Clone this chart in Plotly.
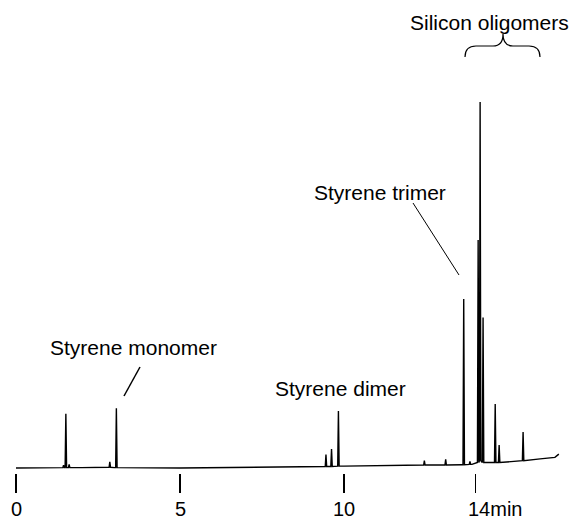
import numpy as np
import plotly.graph_objects as go

# ---- data (retention time in min, signal in % of largest peak) ----
baseline_t = [0.0, 1.4, 2.0, 3.0, 5.0, 7.0, 8.0, 8.7, 9.3, 10.0, 11.0, 12.0, 13.0, 13.6,
              13.9, 14.45, 15.06, 15.4, 15.98, 16.43, 16.55]
baseline_s = [0.0, 0.0, 0.1, 0.1, 0.0, 0.2, 0.3, 0.5, 0.4, 0.5, 0.6, 0.8, 0.8, 0.9,
              1.0, 1.45, 1.7, 2.0, 2.5, 2.9, 3.8]

peak_t = [1.45, 1.52, 1.62, 2.86, 3.06, 9.45, 9.62, 9.83, 12.45, 13.10, 13.65, 13.84,
          14.09, 14.15, 14.24, 14.61, 14.73, 15.46]
peak_top = [0.8, 14.8, 1.0, 1.7, 16.3, 3.7, 5.2, 15.6, 2.0, 2.4, 46.2, 1.8,
            62.3, 100.0, 41.1, 17.5, 6.3, 9.8]
peak_base = [0.1, 0.1, 0.1, 0.2, 0.1, 0.4, 0.4, 0.5, 0.8, 0.8, 0.9, 1.0,
             1.5, 2.0, 1.5, 1.5, 1.5, 2.0]

tick_vals = [0, 5, 10, 14]
tick_labels = ["0", "5", "10", "14min"]

labels = ["Styrene monomer", "Styrene dimer", "Styrene trimer", "Silicon oligomers"]

# ---- build chromatogram polyline ----
half = 0.022
pts = list(zip(baseline_t, baseline_s))
for t, top, b in zip(peak_t, peak_top, peak_base):
    pts += [(t - half, b), (t, top), (t + half, b)]
pts.sort(key=lambda p: p[0])
xs = [p[0] for p in pts]
ys = [p[1] for p in pts]

W, H = 572, 519
MB = 46
plot_h = H - MB
# pixel <-> data mapping
px_per_min = 32.8
x0 = -16 / px_per_min
x1 = x0 + W / px_per_min
px_per_unit = 3.66
y_base_px = 468
y0 = -(plot_h - y_base_px) / px_per_unit
y1 = y_base_px / px_per_unit


def X(px):
    return x0 + px / px_per_min


def Y(py):
    return (y_base_px - py) / px_per_unit


fig = go.Figure()
fig.add_trace(go.Scatter(x=xs, y=ys, mode="lines",
                         line=dict(color="black", width=1.4), hoverinfo="skip"))

font = dict(family="Liberation Sans, Arial, sans-serif", size=21, color="black")
tick_font = dict(family="Liberation Sans, Arial, sans-serif", size=20, color="black")

ann_pos = [(133, 347), (340.5, 388), (380, 192), (489, 22)]
annotations = []
for txt, (px, py) in zip(labels, ann_pos):
    annotations.append(dict(x=X(px), y=Y(py), text=txt, showarrow=False,
                            xref="x", yref="y", font=font,
                            xanchor="center", yanchor="middle"))
# tick labels (last one "14min" left aligned like the reference)
label_y = -(509 - plot_h) / plot_h
for i, (v, txt) in enumerate(zip(tick_vals, tick_labels)):
    last = i == len(tick_vals) - 1
    annotations.append(dict(x=v, y=label_y, text=txt, showarrow=False,
                            xref="x", yref="paper", font=tick_font,
                            xanchor="left" if last else "center",
                            xshift=-8 if last else 0,
                            yanchor="middle", borderpad=0))

shapes = [
    dict(type="line", x0=X(140), y0=Y(367), x1=X(124), y1=Y(396),
         line=dict(color="black", width=1.5)),
    dict(type="line", x0=X(413), y0=Y(203), x1=X(459), y1=Y(275),
         line=dict(color="black", width=1)),
]
# brace over silicon oligomers (pixel path converted)
brace_px = [("M", 465, 57), ("Q", 465, 46, 476, 46), ("L", 493, 46),
            ("Q", 503, 46, 503, 34), ("Q", 503, 46, 513, 46), ("L", 529, 46),
            ("Q", 540, 46, 540, 57)]
path = ""
for seg in brace_px:
    cmd = seg[0]
    coords = seg[1:]
    parts = []
    for i in range(0, len(coords), 2):
        parts.append(f"{X(coords[i]):.4f},{Y(coords[i+1]):.4f}")
    path += cmd + " " + " ".join(parts) + " "
shapes.append(dict(type="path", path=path.strip(), xref="x", yref="y",
                   line=dict(color="black", width=1.2)))

fig.update_layout(
    width=W, height=H,
    margin=dict(l=0, r=0, t=0, b=MB, autoexpand=False),
    paper_bgcolor="white", plot_bgcolor="white",
    showlegend=False,
    annotations=annotations,
    shapes=shapes,
    xaxis=dict(range=[x0, x1], showgrid=False, zeroline=False, showline=False,
               automargin=False,
               tickmode="array", tickvals=tick_vals, showticklabels=False,
               ticks="outside", ticklen=19, tickwidth=1.2, tickcolor="black"),
    yaxis=dict(range=[y0, y1], visible=False, automargin=False),
)

fig.write_html("out.html", config={"displayModeBar": False, "staticPlot": True},
               post_script="document.body.style.margin='0';document.body.style.overflow='hidden';")
